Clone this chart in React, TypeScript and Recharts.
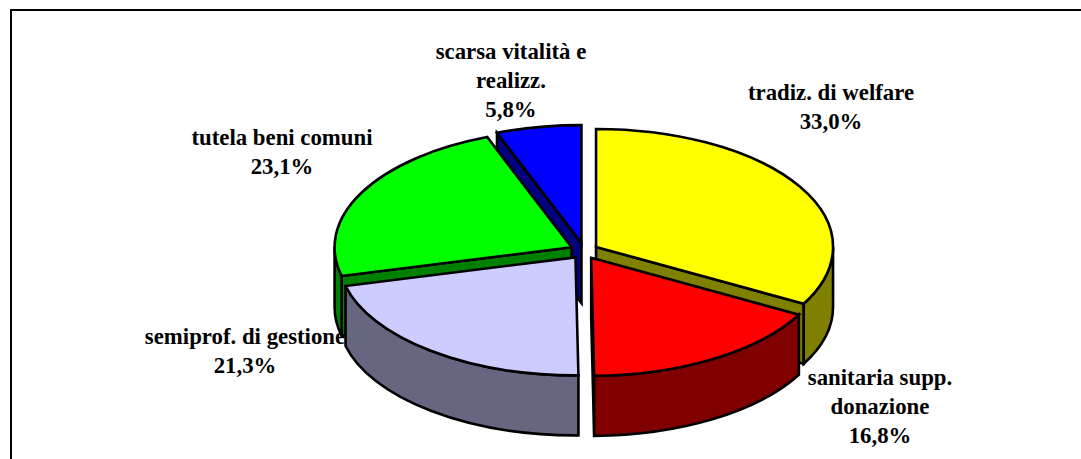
import { PieChart, Pie } from "recharts";

// shares of the five clusters, clockwise from 12 o'clock
const categories = [
  "tradiz. di welfare",
  "sanitaria supp.\ndonazione",
  "semiprof. di gestione",
  "tutela beni comuni",
  "scarsa vitalità e\nrealizz.",
];
const shares = [33.0, 16.8, 21.3, 23.1, 5.8];
const topColors = ["#ffff00", "#ff0000", "#ccccff", "#00ff00", "#0000ff"];
const wallColors = ["#808000", "#800000", "#666680", "#008000", "#000080"];
// label anchor: centre x and baseline of the first line
const labelAnchors = [
  [831, 100],
  [880, 385],
  [245, 344],
  [282, 145],
  [511, 59],
];

const data = categories.map((name, i) => ({
  name,
  value: shares[i],
  fill: topColors[i],
  wall: wallColors[i],
  labelAt: labelAnchors[i],
}));

const TILT = 118 / 237;
const DEPTH = 60;
const EXPLODE_X = 14;
const EXPLODE_Y = 8;
const rad = (d: number) => (d * Math.PI) / 180;

// recharts angles -> clockwise degrees from the top, plus the exploded apex
function geometry(p: any) {
  const a = 90 - p.startAngle;
  const b = 90 - p.endAngle;
  const mid = (a + b) / 2;
  const rx = p.outerRadius;
  const ry = rx * TILT;
  const ax = p.cx + Math.sin(rad(mid)) * EXPLODE_X;
  const ay = p.cy - Math.cos(rad(mid)) * EXPLODE_Y;
  const rim = (t: number, dy = 0) => [ax + rx * Math.sin(rad(t)), ay - ry * Math.cos(rad(t)) + dy];
  return { a, b, rx, ry, ax, ay, rim };
}

const strokeProps = { stroke: "#000", strokeWidth: 2.6, strokeLinejoin: "miter" as const };

function TopShape(p: any) {
  const { a, b, rx, ry, ax, ay, rim } = geometry(p);
  const [x1, y1] = rim(a);
  const [x2, y2] = rim(b);
  const large = b - a > 180 ? 1 : 0;
  return (
    <path
      d={`M${ax},${ay} L${x1},${y1} A${rx},${ry} 0 ${large} 1 ${x2},${y2} Z`}
      fill={p.payload.fill}
      {...strokeProps}
    />
  );
}

function OuterWall(p: any) {
  const { a, b, rx, ry, rim } = geometry(p);
  const from = Math.max(a, 90);
  const to = Math.min(b, 270);
  if (to <= from) return <g />;
  const [x1, y1] = rim(from);
  const [x2, y2] = rim(to);
  const [x3, y3] = rim(to, DEPTH);
  const [x4, y4] = rim(from, DEPTH);
  return (
    <path
      d={`M${x1},${y1} A${rx},${ry} 0 0 1 ${x2},${y2} L${x3},${y3} A${rx},${ry} 0 0 0 ${x4},${y4} Z`}
      fill={p.payload.wall}
      {...strokeProps}
    />
  );
}

// the cut of a slice that faces the viewer, or nothing
function cutFace(p: any, back: boolean) {
  const { a, b, ax, ay, rim } = geometry(p);
  const t = Math.sin(rad(b)) > 0.001 ? b : Math.sin(rad(a)) < -0.001 ? a : null;
  // slices at the back of the pie have to go under the others
  if (t === null || t > 300 !== back) return <g />;
  const [x, y] = rim(t);
  return (
    <path
      d={`M${ax},${ay} L${x},${y} L${x},${y + DEPTH} L${ax},${ay + DEPTH} Z`}
      fill={p.payload.wall}
      {...strokeProps}
    />
  );
}

function renderLabel(p: any) {
  const [x, y] = p.payload.labelAt;
  const lines = [...p.payload.name.split("\n"), p.payload.value.toFixed(1).replace(".", ",") + "%"];
  return (
    <text
      x={x}
      y={y}
      textAnchor="middle"
      fontFamily="'Liberation Serif', serif"
      fontWeight="bold"
      fontSize={22.8}
      fill="#000"
    >
      {lines.map((line: string, i: number) => (
        <tspan key={i} x={x} y={y + i * 29}>
          {line}
        </tspan>
      ))}
    </text>
  );
}

const pieProps = {
  data,
  dataKey: "value",
  nameKey: "name",
  cx: 584,
  cy: 251,
  outerRadius: 237,
  startAngle: 90,
  endAngle: -270,
  isAnimationActive: false,
};

export default function App() {
  return (
    <div style={{ position: "absolute", left: 0, top: 0, width: 1081, height: 459, background: "#fff", overflow: "hidden" }}>
      <div style={{ position: "absolute", left: 10, top: 9, width: 1100, height: 470, borderTop: "2px solid #000", borderLeft: "2px solid #000" }} />
      <div style={{ position: "absolute", left: 0, top: 0 }}>
        <PieChart width={1081} height={459} margin={{ top: 0, right: 0, bottom: 0, left: 0 }}>
          <Pie {...pieProps} shape={(p: any) => cutFace(p, true)} />
          <Pie {...pieProps} shape={(p: any) => cutFace(p, false)} />
          <Pie {...pieProps} shape={OuterWall} />
          <Pie {...pieProps} shape={TopShape} label={renderLabel} labelLine={false} />
        </PieChart>
      </div>
    </div>
  );
}
